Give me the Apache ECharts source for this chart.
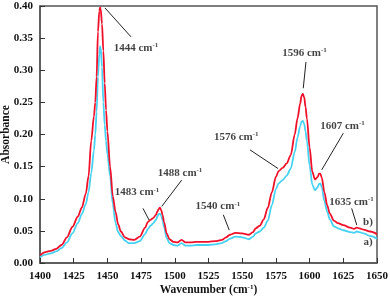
<!DOCTYPE html>
<html><head><meta charset="utf-8">
<script src="https://cdn.jsdelivr.net/npm/echarts@6/dist/echarts.min.js"></script>
<style>html,body{margin:0;padding:0;background:#fff}#c{width:390px;height:297px}</style>
</head><body><div id="c"></div>
<script>
var wavenumbers = [1400,1404,1408,1412,1416,1420,1424,1428,1431,1434,1436,1438,1440,1441,1442,1443,1444,1444.6,1445,1446,1447,1448,1449,1450,1452,1454,1456,1458,1460,1463,1466,1470,1474,1478,1480,1482,1484,1486,1487,1488,1489,1490,1491,1492,1494,1496,1499,1502,1505,1508,1512,1516,1520,1525,1530,1535,1538,1541,1545,1550,1555,1558,1560,1563,1566,1569,1572,1575,1577,1580,1583,1586,1589,1591,1593,1594,1595,1596,1597,1598,1600,1602,1604,1606,1607,1608,1609,1611,1613,1615,1618,1621,1625,1630,1633,1635,1637,1640,1645,1650];
var seriesB = [0.012,0.017,0.019,0.022,0.028,0.040,0.056,0.072,0.086,0.108,0.135,0.190,0.228,0.250,0.290,0.360,0.392,0.398,0.396,0.372,0.330,0.280,0.238,0.205,0.150,0.104,0.080,0.060,0.049,0.040,0.037,0.036,0.041,0.055,0.064,0.067,0.070,0.075,0.080,0.084,0.086,0.082,0.074,0.064,0.046,0.037,0.033,0.032,0.036,0.032,0.032,0.033,0.033,0.033,0.034,0.036,0.040,0.044,0.047,0.046,0.044,0.048,0.054,0.058,0.068,0.086,0.110,0.134,0.143,0.148,0.155,0.168,0.200,0.225,0.248,0.260,0.263,0.258,0.243,0.225,0.180,0.142,0.130,0.134,0.139,0.139,0.133,0.110,0.090,0.077,0.066,0.062,0.059,0.055,0.053,0.055,0.054,0.052,0.049,0.045];
var seriesA = [0.009,0.013,0.015,0.018,0.023,0.032,0.046,0.062,0.076,0.092,0.110,0.140,0.175,0.200,0.235,0.290,0.325,0.337,0.335,0.305,0.250,0.215,0.190,0.170,0.135,0.092,0.062,0.048,0.042,0.035,0.031,0.031,0.034,0.045,0.053,0.058,0.062,0.067,0.072,0.076,0.077,0.073,0.066,0.056,0.039,0.031,0.028,0.027,0.031,0.027,0.027,0.028,0.028,0.028,0.029,0.031,0.034,0.038,0.041,0.040,0.037,0.041,0.046,0.049,0.055,0.066,0.090,0.115,0.124,0.129,0.136,0.147,0.173,0.195,0.213,0.220,0.221,0.216,0.205,0.190,0.152,0.122,0.113,0.118,0.123,0.124,0.118,0.096,0.080,0.068,0.057,0.054,0.051,0.048,0.047,0.049,0.048,0.046,0.042,0.038];

var peakNames = ['1444','1483','1488','1540','1576','1596','1607','1635'];
var peakLabelX = [1471.2,1472,1503.9,1532,1545.6,1596.2,1624.4,1631.1];
var peakLabelY = [0.335,0.110,0.140,0.088,0.196,0.327,0.213,0.095];
var leaderFrom = [[1448.2,0.397],[1476.4,0.085],[1505.1,0.129],[1536,0.075],[1555.8,0.176],[1597.3,0.313],[1625,0.202],[1631.2,0.085]];
var leaderTo = [[1467.5,0.352],[1480.9,0.067],[1490.3,0.088],[1540.4,0.051],[1576.6,0.147],[1595.3,0.272],[1609,0.145],[1635,0.059]];
var curveNames = ['b)','a)'];
var curveLabelX = [1643.3,1643.3];
var curveLabelY = [0.063,0.033];
var xTicks = {min:1400,max:1650,interval:25};
var yTicks = {min:0,max:0.40,interval:0.05};

function pairs(xs, ys){ return xs.map(function(x,i){return [x, ys[i]];}); }
var FONT = 'Liberation Serif';
var option = {
  animation:false,
  backgroundColor:'#fff',
  grid:{left:40,right:13,top:6,bottom:34,show:true,borderColor:'#555',borderWidth:1.5,outerBoundsMode:'none',containLabel:false},
  xAxis:{type:'value',min:xTicks.min,max:xTicks.max,interval:xTicks.interval,
    name:'Wavenumber (cm{s|-1})',nameLocation:'middle',nameGap:21,nameMoveOverlap:false,
    nameTextStyle:{fontFamily:FONT,fontWeight:'bold',fontSize:11.5,color:'#111',
      rich:{s:{fontFamily:FONT,fontWeight:'bold',fontSize:7,verticalAlign:'top',lineHeight:12,color:'#111'}}},
    axisLine:{lineStyle:{color:'#555',width:1.5}},
    axisTick:{inside:true,length:5,lineStyle:{color:'#333'}},
    splitLine:{show:false},
    axisLabel:{fontFamily:FONT,fontWeight:'bold',fontSize:11,color:'#111',margin:8,
      formatter:function(v){return String(v);}}},
  yAxis:{type:'value',min:yTicks.min,max:yTicks.max,interval:yTicks.interval,
    name:'Absorbance',nameLocation:'middle',nameGap:28,nameMoveOverlap:false,
    nameTextStyle:{fontFamily:FONT,fontWeight:'bold',fontSize:11.5,color:'#111'},
    axisLine:{show:true,lineStyle:{color:'#555',width:1.5}},
    axisTick:{show:true,inside:true,length:5,lineStyle:{color:'#333'}},
    splitLine:{show:false},
    axisLabel:{fontFamily:FONT,fontWeight:'bold',fontSize:11,color:'#111',margin:7,
      formatter:function(v){return v.toFixed(2);}}},
  series:[
    {type:'line',data:pairs(wavenumbers,seriesA),showSymbol:false,smooth:0.3,smoothMonotone:'x',
      lineStyle:{color:'#45d2f2',width:1.8},z:2},
    {type:'line',data:pairs(wavenumbers,seriesB),showSymbol:false,smooth:0.3,smoothMonotone:'x',
      lineStyle:{color:'#f0102a',width:1.8},z:3},
    {type:'lines',coordinateSystem:'cartesian2d',silent:true,z:4,
      lineStyle:{color:'#222',width:1,opacity:1},
      data:leaderFrom.map(function(f,i){return {coords:[f,leaderTo[i]]};})},
    {type:'scatter',symbolSize:0,silent:true,z:5,
      data:peakNames.map(function(n,i){return {value:[peakLabelX[i],peakLabelY[i]],name:n};}),
      label:{show:true,position:'inside',formatter:function(p){return '{n|'+p.name+' cm}{s|-1}';},
        rich:{n:{fontFamily:FONT,fontWeight:'bold',fontSize:11,color:'#111',lineHeight:12},
              s:{fontFamily:FONT,fontWeight:'bold',fontSize:7,color:'#111',verticalAlign:'top',lineHeight:12}}}},
    {type:'scatter',symbolSize:0,silent:true,z:5,
      data:curveNames.map(function(n,i){return {value:[curveLabelX[i],curveLabelY[i]],name:n};}),
      label:{show:true,position:'inside',formatter:'{b}',fontFamily:FONT,fontWeight:'bold',fontSize:11,color:'#111'}}
  ]
};
var chart = echarts.init(document.getElementById('c'),null,{renderer:'canvas'});
chart.setOption(option);
</script></body></html>
